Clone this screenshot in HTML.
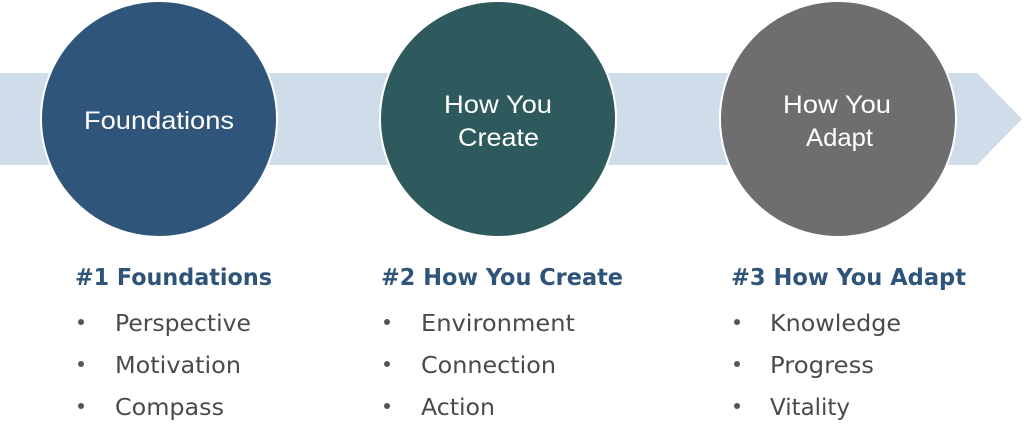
<!DOCTYPE html>
<html><head><meta charset="utf-8"><style>html,body{margin:0;padding:0;background:#fff}svg{display:block}</style></head>
<body>
<svg width="1024" height="437" viewBox="0 0 1024 437" xmlns="http://www.w3.org/2000/svg">
<polygon points="0,73 977,73 1022,119 977,165 0,165" fill="#cfdcea"/>
<circle cx="159" cy="119" r="118" fill="#30557b" stroke="#fff" stroke-width="2"/>
<circle cx="498" cy="119" r="118" fill="#2e5a5e" stroke="#fff" stroke-width="2"/>
<circle cx="838" cy="119" r="118" fill="#6e6e70" stroke="#fff" stroke-width="2"/>
<g font-family="Liberation Sans, sans-serif" font-size="25" fill="#fff">
<text x="84" y="129" textLength="150" lengthAdjust="spacingAndGlyphs">Foundations</text>
<text x="444" y="113" textLength="108" lengthAdjust="spacingAndGlyphs">How You</text>
<text x="458" y="146" textLength="81" lengthAdjust="spacingAndGlyphs">Create</text>
<text x="783" y="113" textLength="108" lengthAdjust="spacingAndGlyphs">How You</text>
<text x="806" y="146" textLength="67" lengthAdjust="spacingAndGlyphs">Adapt</text>
</g>
<g font-family="DejaVu Sans, sans-serif" font-weight="bold" font-size="23" fill="#2f5479">
<text x="75" y="285" textLength="197" lengthAdjust="spacingAndGlyphs">#1 Foundations</text>
<text x="381" y="285" textLength="242" lengthAdjust="spacingAndGlyphs">#2 How You Create</text>
<text x="731" y="285" textLength="235" lengthAdjust="spacingAndGlyphs">#3 How You Adapt</text>
</g>
<g fill="#555">
<circle cx="81" cy="322" r="3"/><circle cx="81" cy="364" r="3"/><circle cx="81" cy="406" r="3"/>
<circle cx="387" cy="322" r="3"/><circle cx="387" cy="364" r="3"/><circle cx="387" cy="406" r="3"/>
<circle cx="737" cy="322" r="3"/><circle cx="737" cy="364" r="3"/><circle cx="737" cy="406" r="3"/>
</g>
<g font-family="DejaVu Sans, sans-serif" font-size="23.5" fill="#4a4a4a">
<text x="115" y="331" textLength="136" lengthAdjust="spacingAndGlyphs">Perspective</text>
<text x="115" y="373" textLength="126" lengthAdjust="spacingAndGlyphs">Motivation</text>
<text x="115" y="415" textLength="109" lengthAdjust="spacingAndGlyphs">Compass</text>
<text x="421" y="331" textLength="154" lengthAdjust="spacingAndGlyphs">Environment</text>
<text x="421" y="373" textLength="135" lengthAdjust="spacingAndGlyphs">Connection</text>
<text x="421" y="415" textLength="74" lengthAdjust="spacingAndGlyphs">Action</text>
<text x="770" y="331" textLength="131" lengthAdjust="spacingAndGlyphs">Knowledge</text>
<text x="770" y="373" textLength="104" lengthAdjust="spacingAndGlyphs">Progress</text>
<text x="770" y="415" textLength="80" lengthAdjust="spacingAndGlyphs">Vitality</text>
</g>
</svg>
</body></html>
